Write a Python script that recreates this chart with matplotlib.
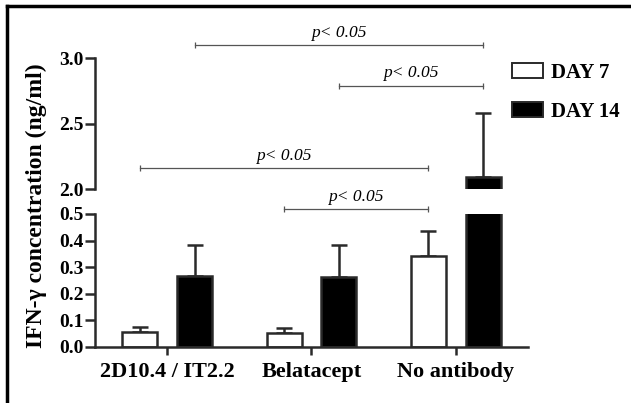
import numpy as np
import matplotlib.pyplot as plt
from matplotlib.patches import Patch

groups = ['2D10.4 / IT2.2', 'Belatacept', 'No antibody']
day7 = [0.056, 0.053, 0.342]
day7_err = [0.019, 0.018, 0.094]
day14 = [0.267, 0.262, 2.09]
day14_err = [0.116, 0.121, 0.49]

# (group_a, series_a, group_b, series_b, y, axis)
brackets = [
    (0, 1, 2, 1, 3.10, 'top'),
    (1, 1, 2, 1, 2.79, 'top'),
    (0, 0, 2, 0, 2.16, 'top'),
    (1, 0, 2, 0, 0.519, 'bot'),
]
p_label = 'p< 0.05'

plt.rcParams['font.family'] = ['Liberation Serif', 'DejaVu Serif']
plt.rcParams['font.weight'] = 'bold'

fig = plt.figure(figsize=(6.31, 4.03), dpi=100)
ax_bot = fig.add_axes([0.1506, 0.139, 0.686, 0.330])
ax_top = fig.add_axes([0.1506, 0.531, 0.686, 0.325], sharex=ax_bot)

x = np.arange(len(groups))
off = 0.19
w = 0.243
edge = '#2a2a2a'
lw = 1.8

for ax in (ax_bot, ax_top):
    ax.bar(x - off, day7, w, color='white', edgecolor=edge, linewidth=lw, zorder=2)
    ax.bar(x + off, day14, w, color='black', edgecolor=edge, linewidth=lw, zorder=2)
    ax.errorbar(x - off, day7, yerr=[np.zeros(3), day7_err], fmt='none',
                ecolor=edge, elinewidth=lw, capsize=6, capthick=lw, zorder=1)
    ax.errorbar(x + off, day14, yerr=[np.zeros(3), day14_err], fmt='none',
                ecolor=edge, elinewidth=lw, capsize=6, capthick=lw, zorder=1)
    for s in ['top', 'right']:
        ax.spines[s].set_visible(False)
    ax.spines['left'].set_linewidth(lw)
    ax.spines['left'].set_color(edge)
    ax.tick_params(axis='y', direction='out', length=7, width=lw, color=edge,
                   labelsize=14, pad=1)
    ax.set_xlim(-0.5, 2.5)

ax_bot.set_ylim(0, 0.5)
ax_bot.set_yticks([0.0, 0.1, 0.2, 0.3, 0.4, 0.5])
ax_bot.yaxis.set_major_formatter(plt.FormatStrFormatter('%.1f'))
ax_bot.spines['bottom'].set_linewidth(lw)
ax_bot.spines['bottom'].set_color(edge)
ax_bot.set_xticks(x)
ax_bot.set_xticklabels(groups, fontsize=16)
ax_bot.tick_params(axis='x', direction='out', length=6, width=lw, color=edge, pad=5)

ax_top.set_ylim(2.0, 3.0)
ax_top.set_yticks([2.0, 2.5, 3.0])
ax_top.yaxis.set_major_formatter(plt.FormatStrFormatter('%.1f'))
ax_top.spines['bottom'].set_visible(False)
ax_top.tick_params(axis='x', bottom=False, labelbottom=False)

fig.text(0.057, 0.49, 'IFN-\u03b3 concentration (ng/ml)', rotation=90,
         ha='center', va='center', fontsize=17, fontweight='bold')

# significance brackets
for ga, sa, gb, sb, y, which in brackets:
    ax = ax_top if which == 'top' else ax_bot
    xa = x[ga] + (off if sa else -off)
    xb = x[gb] + (off if sb else -off)
    ax.plot([xa, xb], [y, y], color='#555555', lw=0.9, clip_on=False,
            marker='|', markersize=5, markeredgewidth=0.9)
    ax.annotate(p_label, ((xa + xb) / 2, y), xytext=(0, 3),
                textcoords='offset points', ha='center', va='bottom',
                fontsize=12.5, style='italic', fontweight='normal',
                annotation_clip=False)

handles = [Patch(facecolor='white', edgecolor=edge, linewidth=1.4),
           Patch(facecolor='black', edgecolor=edge, linewidth=1.4)]
fig.legend(handles, ['DAY 7', 'DAY 14'], loc='upper left',
           bbox_to_anchor=(0.781, 0.89), frameon=False,
           handlelength=1.5, handleheight=0.7, handletextpad=0.4,
           labelspacing=0.9, prop={'weight': 'bold', 'size': 15})

# frame lines at top and left of the image
fig.add_artist(plt.Line2D([0.011, 1.0], [0.985, 0.985], color='black', lw=2.5,
                          transform=fig.transFigure))
fig.add_artist(plt.Line2D([0.011, 0.011], [0.0, 0.985], color='black', lw=2.5,
                          transform=fig.transFigure))

fig.savefig('out.png', dpi=100)
